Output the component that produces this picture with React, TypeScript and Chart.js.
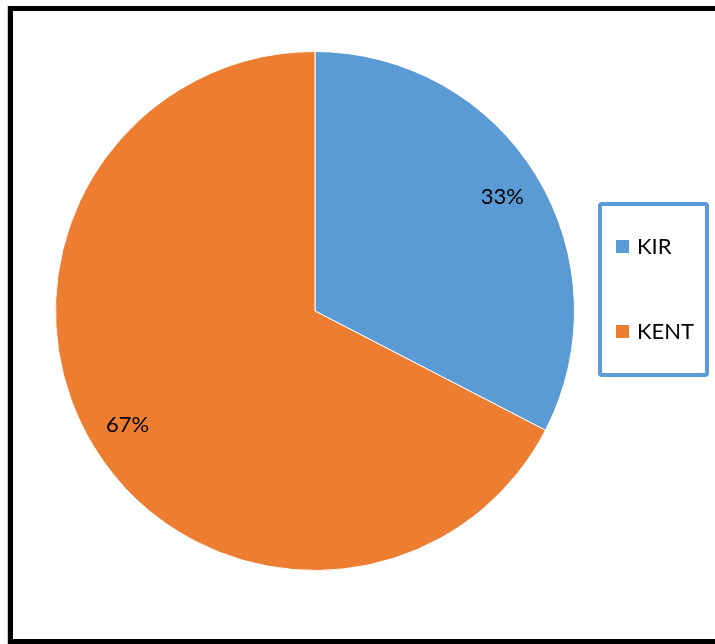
import React, { useEffect, useRef } from "react";
import { Chart, registerables } from "chart.js";

Chart.register(...registerables);

const categories = ["KIR", "KENT"];
const values = [32.6, 67.4];
const colors = ["#5B9BD5", "#ED7D31"];

const FONT = "Lato, 'Open Sans', sans-serif";

const decorPlugin = {
  id: "decor",
  afterDraw(chart: any) {
    const ctx = chart.ctx;
    const meta = chart.getDatasetMeta(0);
    const total = values.reduce((a, b) => a + b, 0);
    ctx.save();
    // percentage labels
    ctx.fillStyle = "#000";
    ctx.font = `22px ${FONT}`;
    ctx.textAlign = "center";
    ctx.textBaseline = "middle";
    meta.data.forEach((arc: any, i: number) => {
      const p = arc.getProps(["x", "y", "startAngle", "endAngle", "outerRadius"], true);
      const mid = (p.startAngle + p.endAngle) / 2;
      const r = p.outerRadius * 0.845;
      const x = p.x + Math.cos(mid) * r;
      const y = p.y + Math.sin(mid) * r;
      ctx.fillText(Math.round((values[i] / total) * 100) + "%", x, y);
    });
    // legend box
    ctx.strokeStyle = "#5B9BD5";
    ctx.lineWidth = 4;
    ctx.lineJoin = "round";
    ctx.beginPath();
    ctx.roundRect(600, 204, 107, 171, 2);
    ctx.stroke();
    ctx.font = `22px ${FONT}`;
    ctx.textAlign = "left";
    ctx.textBaseline = "middle";
    categories.forEach((c, i) => {
      const cy = 247 + i * 85;
      ctx.fillStyle = colors[i];
      ctx.fillRect(616, cy - 7, 13, 13);
      ctx.fillStyle = "#000";
      ctx.fillText(c, 637, cy);
    });
    // outer frame
    ctx.fillStyle = "#000";
    ctx.fillRect(8, 6, 707, 5);
    ctx.fillRect(8, 6, 5, 638);
    ctx.fillRect(8, 639, 707, 5);
    ctx.fillStyle = "#c8c8c8";
    ctx.fillRect(7, 6, 1, 638);
    ctx.restore();
  },
};

export default function App() {
  const ref = useRef<HTMLCanvasElement>(null);
  useEffect(() => {
    if (!ref.current) return;
    const chart = new Chart(ref.current, {
      type: "pie",
      data: {
        labels: categories,
        datasets: [
          {
            data: values,
            backgroundColor: colors,
            borderColor: "#ffffff",
            borderWidth: 1,
          },
        ],
      },
      options: {
        responsive: false,
        animation: false,
        layout: { padding: { left: 55, right: 140, top: 51, bottom: 73 } },
        plugins: {
          legend: { display: false },
          tooltip: { enabled: false },
        },
      },
      plugins: [decorPlugin],
    });
    return () => chart.destroy();
  }, []);
  return (
    <div style={{ position: "absolute", left: 0, top: 0, width: 715, height: 644, overflow: "hidden", background: "#fff" }}>
      <canvas ref={ref} width={715} height={644} style={{ display: "block", width: 715, height: 644 }} />
    </div>
  );
}
